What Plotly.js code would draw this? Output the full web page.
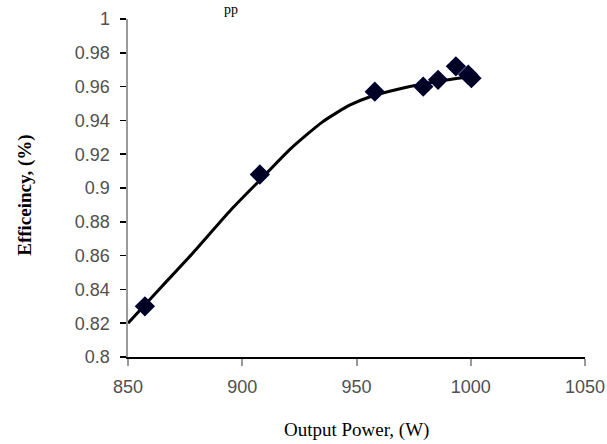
<!DOCTYPE html>
<html>
<head>
<meta charset="utf-8">
<script src="https://cdn.plot.ly/plotly-3.0.1.min.js"></script>
<style>html,body{margin:0;padding:0;background:#fff;}#chart{width:607px;height:444px;}</style>
</head>
<body>
<div id="chart"></div>
<script>
// Measured points (diamonds)
const powerW = [857.4, 907.7, 958.0, 979.2, 985.7, 993.5, 998.9, 1000.3];
const efficiency = [0.830, 0.908, 0.957, 0.960, 0.964, 0.972, 0.967, 0.965];
// Fitted trend curve
const curvePowerW = [850, 865, 878, 895, 908, 921, 935, 947, 956, 970, 985, 1000];
const curveEff = [0.820, 0.842, 0.861, 0.887, 0.905, 0.923, 0.939, 0.949, 0.954, 0.959, 0.963, 0.966];
// Tick labels
const yTickVals = [0.8, 0.82, 0.84, 0.86, 0.88, 0.9, 0.92, 0.94, 0.96, 0.98, 1];
const yTickText = ["0.8", "0.82", "0.84", "0.86", "0.88", "0.9", "0.92", "0.94", "0.96", "0.98", "1"];
const xTickVals = [850, 900, 950, 1000, 1050];
const xTickText = ["850", "900", "950", "1000", "1050"];

const tickFont = {family: "Liberation Sans, Arial, sans-serif", size: 18, color: "#505050"};

const traces = [
  {
    x: curvePowerW, y: curveEff, type: "scatter", mode: "lines",
    line: {color: "#000000", width: 3, shape: "spline", smoothing: 0.6},
    hoverinfo: "skip", showlegend: false
  },
  {
    x: powerW, y: efficiency, type: "scatter", mode: "markers",
    marker: {symbol: "diamond", size: 14, color: "#000022", line: {color: "#000033", width: 1.5}},
    showlegend: false
  }
];

const layout = {
  width: 607, height: 444,
  margin: {l: 128, r: 22, t: 19, b: 87},
  paper_bgcolor: "#ffffff", plot_bgcolor: "#ffffff",
  xaxis: {
    range: [850, 1050], tickvals: xTickVals, ticktext: xTickText,
    showgrid: false, zeroline: false,
    showline: true, linecolor: "#000000", linewidth: 1.5,
    ticks: "outside", ticklen: 7, tickwidth: 2, tickcolor: "#9a9a9a",
    tickfont: tickFont, ticklabelstandoff: 6
  },
  yaxis: {
    range: [0.8, 1], tickvals: yTickVals, ticktext: yTickText,
    showgrid: false, zeroline: false,
    showline: true, linecolor: "#9a9a9a", linewidth: 2.5,
    ticks: "outside", ticklen: 6, tickwidth: 1.5, tickcolor: "#000000",
    tickfont: tickFont, ticklabelstandoff: 6
  },
  annotations: [
    {text: "Output Power, (W)", xref: "paper", yref: "paper", x: 0.501, y: -0.216,
     xanchor: "center", yanchor: "middle", showarrow: false,
     font: {family: "Liberation Serif, Times New Roman, serif", size: 19, color: "#000000"}},
    {text: "<b>Efficeincy, (%)</b>", xref: "paper", yref: "paper", x: -0.2254, y: 0.48,
     xanchor: "center", yanchor: "middle", showarrow: false, textangle: -90,
     font: {family: "Liberation Serif, Times New Roman, serif", size: 19, color: "#000000"}},
    {text: "pp", xref: "paper", yref: "paper", x: 0.225, y: 1.056,
     xanchor: "center", yanchor: "top", showarrow: false,
     font: {family: "Liberation Serif, Times New Roman, serif", size: 14, color: "#000000"}}
  ]
};

Plotly.newPlot("chart", traces, layout, {displayModeBar: false, staticPlot: true});
</script>
</body>
</html>
